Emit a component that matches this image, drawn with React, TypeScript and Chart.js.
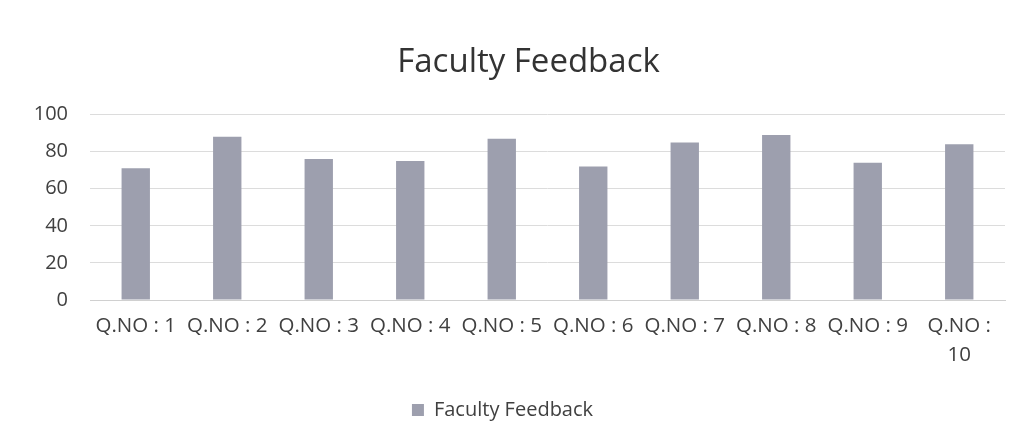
import React, { useEffect, useRef } from "react";
import { Chart, registerables } from "chart.js";

Chart.register(...registerables);

const categories: (string | string[])[] = [
  "Q.NO : 1",
  "Q.NO : 2",
  "Q.NO : 3",
  "Q.NO : 4",
  "Q.NO : 5",
  "Q.NO : 6",
  "Q.NO : 7",
  "Q.NO : 8",
  "Q.NO : 9",
  ["Q.NO :", "10"],
];
const feedbackValues: number[] = [71, 88, 76, 75, 87, 72, 85, 89, 74, 84];
const yTicks: number[] = [0, 20, 40, 60, 80, 100];

const FONT = "'Open Sans', 'Noto Sans', sans-serif";
const TEXT = "#404040";
const BAR = "#9d9fae";

const shiftTitle = {
  id: "shiftTitle",
  afterLayout(chart: any) {
    const t = chart.titleBlock;
    if (t) t.left = t.left + 52;
  },
};

export default function App() {
  const ref = useRef<HTMLCanvasElement | null>(null);

  useEffect(() => {
    if (!ref.current) return;
    const chart = new Chart(ref.current, {
      type: "bar",
      data: {
        labels: categories,
        datasets: [
          {
            label: "Faculty Feedback",
            data: feedbackValues,
            backgroundColor: BAR,
            borderWidth: 0,
            barPercentage: 0.31,
            categoryPercentage: 1,
          },
        ],
      },
      plugins: [shiftTitle],
      options: {
        responsive: false,
        animation: false,
        layout: { padding: { left: 0, right: 24, top: 0, bottom: 16 } },
        plugins: {
          title: {
            display: true,
            text: "Faculty Feedback",
            color: "#333333",
            font: { family: FONT, size: 33, weight: "normal" },
            padding: { top: 43, bottom: 32 },
          },
          legend: {
            display: true,
            position: "bottom",
            labels: {
              color: TEXT,
              font: { family: FONT, size: 20 },
              boxWidth: 12,
              boxHeight: 12,
              padding: 10,
            },
          },
          tooltip: { enabled: false },
        },
        scales: {
          x: {
            grid: { display: false, drawTicks: false },
            border: { display: true, color: "#d0d0d0" },
            ticks: {
              color: TEXT,
              font: { family: FONT, size: 20.5, lineHeight: 1.4 },
              padding: 12,
              maxRotation: 0,
              minRotation: 0,
              autoSkip: false,
            },
            afterFit: (scale: any) => {
              scale.height = 90;
            },
          },
          y: {
            min: 0,
            max: 100,
            afterBuildTicks: (scale: any) => {
              scale.ticks = yTicks.map((v) => ({ value: v }));
            },
            grid: { color: "#dcdcdc", drawTicks: false },
            border: { display: false },
            ticks: {
              color: TEXT,
              font: { family: FONT, size: 20 },
              padding: 22,
            },
            afterFit: (scale: any) => {
              scale.width = 90;
            },
          },
        },
      },
    });
    return () => chart.destroy();
  }, []);

  return (
    <div style={{ position: "absolute", left: 0, top: 0, width: 1029, height: 446, background: "#ffffff" }}>
      <canvas ref={ref} width={1029} height={446} style={{ display: "block" }} />
    </div>
  );
}
